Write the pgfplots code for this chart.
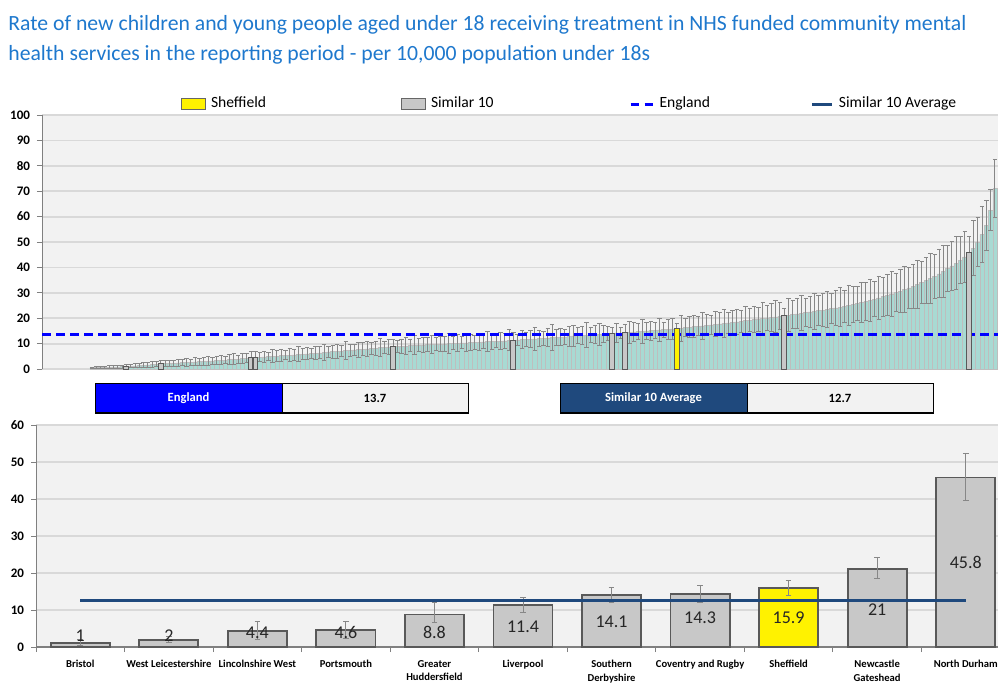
\documentclass[border=0pt]{standalone}
\usepackage{fontspec}
\setmainfont{Carlito}
\usepackage{pgfplots}
\usepackage{pgfplotstable}
\pgfplotsset{compat=1.18}
\definecolor{titleblue}{RGB}{30,120,205}
\definecolor{tealbar}{RGB}{168,218,211}
\definecolor{barline}{RGB}{190,190,190}
\definecolor{bggray}{RGB}{242,242,242}
\definecolor{gridgray}{RGB}{217,217,217}
\definecolor{errgray}{RGB}{135,135,135}
\definecolor{simgray}{RGB}{200,200,200}
\definecolor{bordgray}{RGB}{89,89,89}
\definecolor{avgblue}{RGB}{31,73,125}
\definecolor{engblue}{RGB}{0,0,255}

\pgfplotstableread{
v e
0.4 0.3
0.5 0.4
0.5 0.4
0.6 0.5
0.7 0.6
0.8 0.6
0.8 0.7
0.9 0.6
1.0 0.8
1.1 0.7
1.2 0.8
1.4 0.9
1.5 1.0
1.6 0.9
1.7 1.1
1.9 1.0
2.0 1.2
2.1 1.1
2.2 1.3
2.3 1.2
2.4 1.4
2.5 1.3
2.6 1.5
2.7 1.2
2.8 1.6
2.9 1.4
3.0 1.5
3.1 1.7
3.2 1.3
3.3 1.6
3.4 1.8
3.5 1.5
3.7 1.9
3.8 2.2
3.9 1.6
4.1 2.0
4.2 1.8
4.4 2.4
4.6 2.1
4.7 1.9
4.8 2.2
4.9 1.7
5.0 2.5
5.1 2.0
5.3 2.3
5.4 1.8
5.5 2.6
5.6 2.2
5.8 3.0
5.9 2.1
6.0 2.4
6.2 1.9
6.3 2.7
6.4 2.3
6.5 3.2
6.7 2.0
6.8 2.5
6.9 2.8
7.0 2.2
7.2 3.5
7.3 2.4
7.5 2.1
7.6 2.9
7.8 2.6
7.9 3.1
8.1 2.2
8.2 2.7
8.4 3.6
8.5 2.4
8.7 2.9
8.8 3.0
8.9 2.5
9.0 2.8
9.1 3.3
9.2 2.3
9.3 3.7
9.4 2.6
9.5 3.0
9.6 2.8
9.7 3.4
9.8 2.5
9.8 3.1
9.9 2.9
10.0 3.8
10.1 2.6
10.2 3.2
10.3 2.4
10.3 3.5
10.4 3.0
10.5 2.7
10.6 3.3
10.7 2.8
10.8 4.0
10.9 3.1
10.9 2.6
11.0 3.4
11.1 3.0
11.3 4.2
11.4 2.9
11.5 2.2
11.6 3.5
11.7 2.7
11.8 3.2
11.9 4.5
12.0 3.0
12.1 2.8
12.3 3.6
12.4 5.2
12.5 3.1
12.6 3.3
12.7 2.9
12.8 3.8
13.0 4.1
13.1 3.2
13.2 3.5
13.3 5.0
13.5 3.0
13.6 3.7
13.7 4.3
13.8 3.4
14.0 2.6
14.1 2.2
14.2 3.9
14.2 2.3
14.3 3.1
14.4 4.4
14.6 3.6
14.7 3.2
14.8 4.8
15.0 3.5
15.1 3.8
15.2 3.3
15.4 4.6
15.5 3.0
15.6 3.9
15.8 4.2
15.9 2.2
16.1 5.1
16.3 3.6
16.5 4.0
16.7 4.4
16.8 3.7
17.0 5.3
17.2 4.1
17.4 3.8
17.6 4.9
17.8 4.5
18.0 5.6
18.2 4.2
18.4 4.7
18.6 5.0
18.8 4.4
19.0 5.8
19.2 4.6
19.4 5.2
19.6 4.8
19.9 6.1
20.1 5.0
20.3 5.5
20.5 6.3
20.8 5.2
21.0 3.0
21.2 6.5
21.5 5.4
21.7 5.9
22.0 6.8
22.2 5.6
22.5 6.2
22.7 7.0
23.0 5.8
23.2 6.6
23.5 7.2
23.8 6.0
24.1 6.9
24.4 7.5
24.7 6.4
25.0 7.8
25.4 7.1
25.8 6.7
26.2 8.0
26.6 7.4
27.0 8.3
27.5 7.0
28.0 8.6
28.5 7.7
29.0 8.1
29.5 9.0
30.1 7.6
30.7 8.4
31.3 9.2
31.9 8.0
32.5 8.8
33.3 9.5
34.1 8.3
34.9 9.1
35.7 9.8
36.5 8.7
37.5 9.4
38.5 10.2
39.5 9.0
40.6 9.6
41.7 10.5
42.8 9.3
44.1 10.0
45.8 6.4
47.5 10.8
50.0 9.5
53.0 11.0
56.5 10.0
62.5 8.0
71.0 11.5
}\topdata

\pgfplotstableread{
x v
8 1.0
16 2.0
37 4.4
38 4.6
70 8.8
98 11.4
121 14.1
124 14.3
161 21.0
204 45.8
}\topsim

\pgfplotstableread{
x v
136 15.9
}\topsheff

\pgfplotstableread{
x v ep em ly lab
0 1.0 0.9 0.6 3.0 1
1 2.0 0.9 0.9 3.0 2
2 4.4 2.4 2.4 3.8 4.4
3 4.6 2.2 2.2 3.8 4.6
4 8.8 3.1 2.3 4.0 8.8
5 11.4 2.1 2.2 5.5 11.4
6 14.1 2.1 2.2 6.9 14.1
7 14.3 2.3 2.4 7.9 14.3
8 15.9 2.2 2.1 7.9 15.9
9 21.0 3.3 2.6 10.2 21
10 45.8 6.6 6.1 22.8 45.8
}\botdata

\pgfplotstableread{
x v ep em
8 15.9 2.2 2.1
}\botsheff

\begin{document}
\begin{tikzpicture}
% title
\node[anchor=north west, inner sep=0pt, align=left, text=titleblue, font=\fontsize{10.85}{15}\selectfont] at (4pt,-7.5pt)
 {Rate of new children and young people aged under 18 receiving treatment in NHS funded community mental\\
  health services in the reporting period - per 10,000 population under 18s};

% top chart
\begin{axis}[
 at={(21pt,-184.5pt)}, anchor=south west, scale only axis,
 width=478pt, height=127pt,
 xmin=-11.63, xmax=210.7, ymin=0, ymax=100,
 axis background/.style={fill=bggray},
 axis x line*=bottom, axis y line*=left,
 x axis line style={gridgray, line width=0.8pt},
 y axis line style={gray, line width=0.5pt},
 xtick=\empty, ytick={0,10,...,100},
 ymajorgrids, grid style={gridgray, line width=0.9pt},
 tick align=outside, major tick length=2.5pt,
 tick style={gray, line width=0.5pt},
 yticklabel style={font=\fontsize{6.5}{7}\selectfont\bfseries, text=black},
 /pgf/number format/assume math mode=true,
 legend columns=4,
 legend style={at={(0.1454,1.0433)}, anchor=west, draw=none, fill=none,
   inner sep=0pt, outer sep=0pt,
   font=\fontsize{7.8}{9}\selectfont,
   nodes={inner sep=0pt},
   /tikz/every odd column/.append style={column sep=2.5pt},
   /tikz/every even column/.append style={column sep=0pt}},
]
\addlegendimage{legend image code/.code={\draw[fill=yellow, draw=black!60, line width=0.5pt] (0pt,-2.75pt) rectangle (12pt,2.75pt);}}
\addlegendentry{\makebox[95pt][l]{Sheffield}}
\addlegendimage{legend image code/.code={\draw[fill=simgray, draw=black!60, line width=0.5pt] (0pt,-2.75pt) rectangle (12pt,2.75pt);}}
\addlegendentry{\makebox[99pt][l]{Similar 10}}
\addlegendimage{legend image code/.code={\path[draw=none, fill=none] (0pt,-2.75pt) rectangle (12pt,2.75pt); \draw[engblue, line width=1.5pt] (0pt,0pt) -- (4pt,0pt) (7pt,0pt) -- (11pt,0pt);}}
\addlegendentry{\makebox[75.5pt][l]{England}}
\addlegendimage{legend image code/.code={\path[draw=none, fill=none] (0pt,-2.75pt) rectangle (11pt,2.75pt); \draw[avgblue, line width=1.5pt] (0pt,0pt) -- (10pt,0pt);}}
\addlegendentry{Similar 10 Average}

\addplot[ybar, bar width=1, bar shift=0pt, fill=tealbar, draw=barline, line width=0.25pt, forget plot,
  error bars/.cd, y dir=both, y explicit,
  error bar style={errgray, line width=0.5pt},
  error mark=-,
  error mark options={errgray, rotate=90, mark size=1.1pt, line width=0.5pt}]
  table[x expr=\coordindex, y=v, y error=e] {\topdata};
\addplot[engblue, line width=1.5pt, dash pattern=on 4.5pt off 2.5pt, forget plot]
  coordinates {(-11.63,13.7) (210.7,13.7)};
\addplot[ybar, bar width=1.15, bar shift=0pt, fill=simgray, draw=bordgray, line width=0.45pt, forget plot]
  table[x=x, y=v] {\topsim};
\addplot[ybar, bar width=1.15, bar shift=0pt, fill=yellow, draw=bordgray, line width=0.45pt, forget plot]
  table[x=x, y=v] {\topsheff};
\end{axis}

% summary boxes
\fill[engblue] (47.5pt,-191.5pt) rectangle (141pt,-206.5pt);
\fill[bggray] (141pt,-191.5pt) rectangle (234pt,-206.5pt);
\draw[black, line width=0.4pt] (47.5pt,-191.5pt) rectangle (234pt,-206.5pt);
\draw[black, line width=0.4pt] (141pt,-191.5pt) -- (141pt,-206.5pt);
\draw[black, line width=1.1pt] (47.5pt,-206.5pt) -- (234pt,-206.5pt);
\node[text=white, font=\fontsize{6.3}{7}\selectfont\bfseries] at (94.25pt,-199pt) {England};
\node[text=black, font=\fontsize{6.3}{7}\selectfont\bfseries] at (187.5pt,-199pt) {13.7};
\fill[avgblue] (280pt,-191.5pt) rectangle (373.5pt,-206.5pt);
\fill[bggray] (373.5pt,-191.5pt) rectangle (466.5pt,-206.5pt);
\draw[black, line width=0.4pt] (280pt,-191.5pt) rectangle (466.5pt,-206.5pt);
\draw[black, line width=0.4pt] (373.5pt,-191.5pt) -- (373.5pt,-206.5pt);
\draw[black, line width=1.1pt] (280pt,-206.5pt) -- (466.5pt,-206.5pt);
\node[text=white, font=\fontsize{6.3}{7}\selectfont\bfseries] at (326.75pt,-199pt) {Similar 10 Average};
\node[text=black, font=\fontsize{6.3}{7}\selectfont\bfseries] at (420pt,-199pt) {12.7};

% bottom chart
\begin{axis}[
 at={(18pt,-323.5pt)}, anchor=south west, scale only axis,
 width=487pt, height=111pt,
 xmin=-0.5, xmax=10.5, ymin=0, ymax=60,
 axis background/.style={fill=bggray},
 axis x line*=bottom, axis y line*=left,
 x axis line style={gray, line width=0.6pt},
 y axis line style={gray, line width=0.5pt},
 xtick={0,...,10},
 xticklabels={Bristol, West Leicestershire, Lincolnshire West, Portsmouth, {Greater\\Huddersfield}, Liverpool, {Southern\\Derbyshire}, Coventry and Rugby, Sheffield, {Newcastle\\Gateshead}, North Durham},
 xticklabel style={align=center, font=\fontsize{5.3}{6.8}\selectfont\bfseries, text=black, yshift=-0.5pt},
 minor xtick={-0.5,0.5,...,10.5},
 major x tick style={draw=none},
 minor x tick style={gray, line width=0.5pt},
 minor tick length=2.5pt,
 ytick={0,10,...,60},
 ymajorgrids, grid style={gridgray, line width=0.9pt},
 tick align=outside, major tick length=2.5pt,
 tick style={gray, line width=0.5pt},
 yticklabel style={font=\fontsize{6.5}{7}\selectfont\bfseries, text=black},
 /pgf/number format/assume math mode=true,
]
\addplot[ybar, bar width=0.667, bar shift=0pt, fill=simgray, draw=bordgray, line width=0.9pt, forget plot,
  error bars/.cd, y dir=both, y explicit,
  error bar style={errgray, line width=0.5pt},
  error mark=-,
  error mark options={errgray, rotate=90, mark size=1.4pt, line width=0.5pt}]
  table[x=x, y=v, y error plus=ep, y error minus=em] {\botdata};
\addplot[ybar, bar width=0.667, bar shift=0pt, fill=yellow, draw=bordgray, line width=0.9pt, forget plot,
  error bars/.cd, y dir=both, y explicit,
  error bar style={errgray, line width=0.5pt},
  error mark=-,
  error mark options={errgray, rotate=90, mark size=1.4pt, line width=0.5pt}]
  table[x=x, y=v, y error plus=ep, y error minus=em] {\botsheff};
\addplot[avgblue, line width=1.5pt, forget plot] coordinates {(0,12.7) (10,12.7)};
\addplot[draw=none, forget plot, nodes near coords, point meta=explicit symbolic,
  every node near coord/.append style={anchor=center, font=\fontsize{9}{10}\selectfont, text=black!85}]
  table[x=x, y=ly, meta=lab] {\botdata};
\end{axis}

\pgfresetboundingbox
\path[use as bounding box] (0pt,0pt) rectangle (499pt,-341pt);
\end{tikzpicture}
\end{document}
